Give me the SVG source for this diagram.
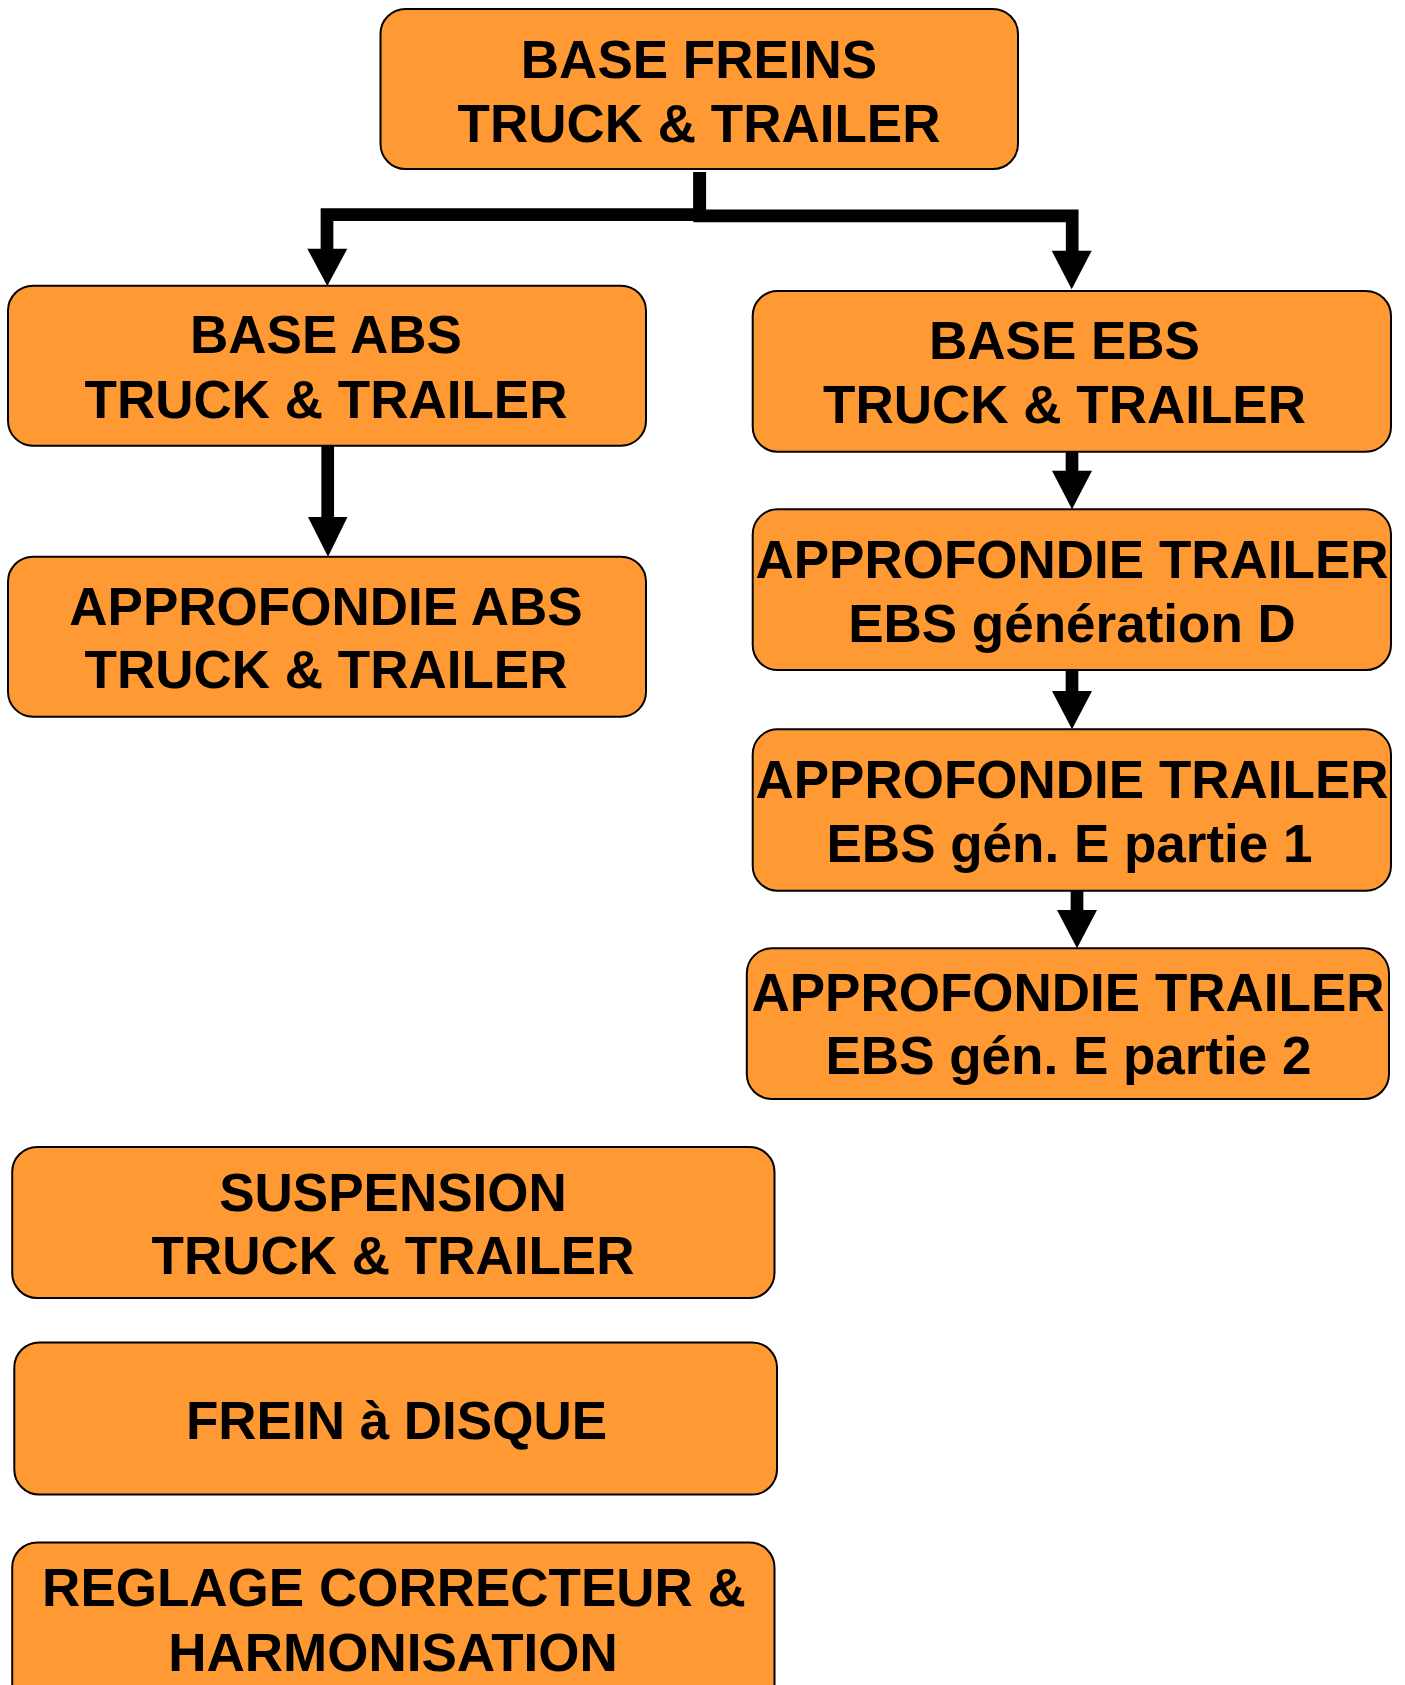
<svg xmlns="http://www.w3.org/2000/svg" width="1405" height="1685" viewBox="0 0 1405 1685">
<style>
.box{fill:#FF9933;stroke:#000;stroke-width:2}
.t{font-family:"Liberation Sans",Arial,sans-serif;font-weight:bold;font-size:53px;fill:#000;text-anchor:middle}
.ln{fill:none;stroke:#000;stroke-width:12.7;stroke-linejoin:miter;stroke-linecap:butt}
.hd{fill:#000}
</style>
<rect width="1405" height="1685" fill="#fff"/>
<g id="connectors">
<path class="ln" d="M699.7 172 V214.7 H327 V249"/>
<polygon class="hd" points="307.3,248.7 347.3,248.7 327.3,286"/>
<path class="ln" d="M699.7 172 V215.8 H1072.2 V251"/>
<polygon class="hd" points="1051.7,250.7 1091.7,250.7 1071.7,289.3"/>
<path class="ln" d="M327.7 445.7 V517.5"/>
<polygon class="hd" points="308,517 347.5,517 328,556.7"/>
<path class="ln" d="M1072 451.7 V471"/>
<polygon class="hd" points="1052,470.7 1092,470.7 1072,509.3"/>
<path class="ln" d="M1072 670 V691.5"/>
<polygon class="hd" points="1052,691 1092,691 1072,729.3"/>
<path class="ln" d="M1077 890.7 V910.5"/>
<polygon class="hd" points="1057,910 1097,910 1077,948.3"/>
</g>
<g id="base-freins">
<rect class="box" x="380.5" y="9" width="637.5" height="160" rx="25"/>
<text class="t" x="699" y="78.3">BASE FREINS</text>
<text class="t" x="699" y="141.7">TRUCK &amp; TRAILER</text>
</g>
<g id="base-abs">
<rect class="box" x="8" y="285.7" width="638" height="160" rx="25"/>
<text class="t" x="326" y="353.3">BASE ABS</text>
<text class="t" x="326" y="417.7">TRUCK &amp; TRAILER</text>
</g>
<g id="approfondie-abs">
<rect class="box" x="8" y="556.7" width="638" height="160" rx="25"/>
<text class="t" x="326" y="625">APPROFONDIE ABS</text>
<text class="t" x="326" y="688.3">TRUCK &amp; TRAILER</text>
</g>
<g id="base-ebs">
<rect class="box" x="752.7" y="291" width="638.3" height="160.7" rx="25"/>
<text class="t" x="1064.5" y="359.3">BASE EBS</text>
<text class="t" x="1064.5" y="423.3">TRUCK &amp; TRAILER</text>
</g>
<g id="approfondie-d">
<rect class="box" x="752.7" y="509.3" width="638.3" height="160.7" rx="25"/>
<text class="t" x="1072" y="577.7">APPROFONDIE TRAILER</text>
<text class="t" x="1072" y="641.7">EBS génération D</text>
</g>
<g id="approfondie-e1">
<rect class="box" x="752.7" y="729.3" width="638.3" height="161.4" rx="25"/>
<text class="t" x="1072" y="798.3">APPROFONDIE TRAILER</text>
<text class="t" x="1069.5" y="862.3">EBS gén. E partie 1</text>
</g>
<g id="approfondie-e2">
<rect class="box" x="746.8" y="948.3" width="642.2" height="150.7" rx="25"/>
<text class="t" x="1068" y="1011">APPROFONDIE TRAILER</text>
<text class="t" x="1068.5" y="1074.3">EBS gén. E partie 2</text>
</g>
<g id="suspension">
<rect class="box" x="12.2" y="1147" width="762.3" height="151" rx="25"/>
<text class="t" x="393" y="1210.7">SUSPENSION</text>
<text class="t" x="393" y="1274.4">TRUCK &amp; TRAILER</text>
</g>
<g id="frein-disque">
<rect class="box" x="14.3" y="1342.4" width="762.7" height="152.2" rx="25"/>
<text class="t" x="396.5" y="1439">FREIN à DISQUE</text>
</g>
<g id="reglage">
<rect class="box" x="12.2" y="1542.4" width="762.3" height="170" rx="25"/>
<text class="t" x="394" y="1606">REGLAGE CORRECTEUR &amp;</text>
<text class="t" x="393" y="1671">HARMONISATION</text>
</g>
</svg>
